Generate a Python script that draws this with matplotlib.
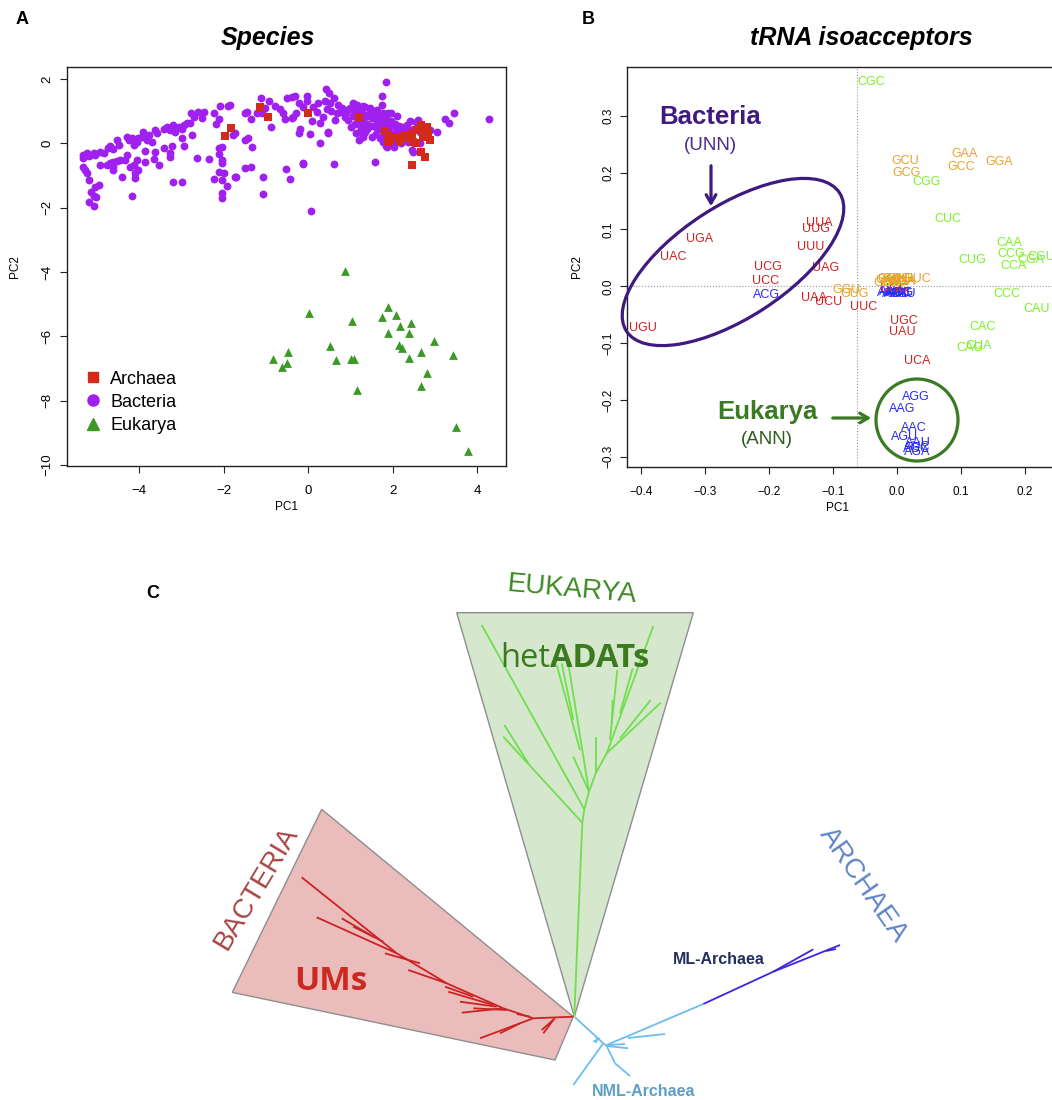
import matplotlib
matplotlib.use('Agg')
import matplotlib.pyplot as plt
from matplotlib.patches import Polygon, Ellipse, Circle
from matplotlib.lines import Line2D
from matplotlib.collections import LineCollection

# ---------------- Panel A data (PC1, PC2 of species) ----------------
bac_x = [-2.08, -1.91, -2.24, -2.12, -2.18, -2.78, -2.62, -2.46, -2.71, -2.52,
         -3.19, -3.07, -2.95, -2.87, -3.35, -3.42, -3.27, -3.15, -2.99, -2.79, -2.75,
         -3.62, -3.58, -3.78, -3.90, -3.94, -4.02, -3.82, -3.70, -4.06, -4.17, -4.25, -4.13, -4.29,
         -4.53, -4.49, -4.69, -4.73, -4.61, -4.92, -4.84, -5.08, -5.04, -5.24, -5.32, -5.32, -5.20,
         -2.99, -2.95, -3.23, -3.41, -3.62, -3.86, -3.27, -3.28,
         -4.29, -4.33, -4.45, -4.53, -4.61, -4.69, -4.77, -4.92, -4.06, -3.86, -3.64, -3.54, -4.02, -4.09,
         -4.13, -4.21, -4.61, -4.62, -5.32, -5.28, -5.24, -5.20, -4.41, -4.09,
         -2.64, -2.36, -2.12, -2.04, -2.12, -2.04, -2.04, -3.20, -2.99, -2.24, -2.04, -2.12, -2.00, -1.93,
         -1.73, -1.77, -4.96, -5.04, -5.14, -5.08, -5.02, -5.20, -5.07, -4.17, -2.04, -2.04,
         1.85, 1.75, -1.85, -1.74, -1.50, -1.42, -1.32, -1.50, -1.36, -1.71, -1.08, -1.08, -0.53, -0.43,
         -0.13, 0.06, 0.62, 1.58, 0.28, 0.04, -0.21, -0.20, -0.89, -1.36, -1.46, -1.50, -1.22, -1.10,
         -1.12, -0.93, -0.79, -0.67, -0.59, -0.55, -0.39, -0.51, -0.32, -0.21, -0.12, -0.02, -0.04, 0.12,
         0.21, 0.08, 0.28, 0.41, 0.49, 0.39, 0.51, 0.61, 0.67, 0.36, 0.47, 0.63, 0.75, 0.87, 0.99, 1.07,
         1.14, 1.22, 1.10, 1.18, 1.26, 1.30, 1.14, 1.34, 1.46, 1.54, 1.62, 1.66, 1.74, 1.81, 1.85, 1.74,
         1.77, 1.85, 1.62, 1.74, 0.87, 0.95, 0.24, -0.28, -0.39, -0.37, -1.03,
         1.78, 1.89, 1.70, 1.81, 1.93, 2.05, 2.17, 2.33, 2.41, 2.56, 2.60, 3.04, 3.24, 3.34, 3.45, 4.28,
         1.87, 2.03, 2.46, 2.64, 2.48, 2.01, 2.09, 2.25, 2.37, 2.80, 2.88, 2.49, -0.12, 0.47,
         1.00, 1.10, 1.20, 1.30, 1.40, 1.50, 1.60, 1.70, 1.80, 1.90, 1.30, 1.40, 1.50, 1.60, 1.70, 1.80,
         1.90, 2.00, 2.10, 2.20, 2.30, 1.25, 1.35, 1.45, 1.55, 1.65, 1.75, 1.85, 1.95, 2.05, 2.15, 2.25,
         2.35, 2.45, 2.55, 2.65, 2.05, 2.20, 2.35, 1.95, 1.10, 1.20, 1.05, 0.90, 0.80, 0.70, 0.55, 0.45,
         1.15, 1.30, 1.45, 1.95, 2.10, 1.60, 1.70, 1.50, 1.40, 1.30, 1.00, 1.20]
bac_y = [1.16, 1.16, 0.93, 0.75, 0.59, 0.93, 0.98, 0.96, 0.83, 0.80,
         0.57, 0.52, 0.57, 0.62, 0.50, 0.44, 0.41, 0.36, 0.44, 0.64, 0.26,
         0.41, 0.31, 0.26, 0.36, 0.21, 0.16, 0.10, 0.05, 0.05, 0.16, 0.10, -0.05, 0.21,
         0.10, -0.05, -0.10, -0.16, -0.19, -0.26, -0.31, -0.29, -0.36, -0.31, -0.36, -0.47, -0.39,
         0.16, -0.10, -0.10, -0.16, -0.26, -0.24, -0.31, -0.44,
         -0.36, -0.52, -0.52, -0.54, -0.57, -0.60, -0.67, -0.67, -0.52, -0.57, -0.50, -0.67, -0.83, -0.93,
         -0.67, -0.73, -0.73, -0.83, -0.73, -0.83, -0.93, -1.14, -1.04, -1.09,
         -0.47, -0.50, -0.16, -0.12, -0.33, -0.52, -0.62, -1.19, -1.19, -1.12, -1.14, -0.88, -0.93, -1.33,
         -1.06, 0.26, -1.30, -1.35, -1.53, -1.64, -1.68, -1.81, -1.95, -1.64, -1.55, -1.71,
         1.89, 1.47, 1.19, 0.31, 0.10, 0.16, -0.12, -0.76, -0.74, -1.06, -1.04, -1.58, -0.79, -1.12,
         -0.64, -2.11, -0.65, -0.59, 0.00, 0.28, 0.31, 0.44, 0.50, 0.76, 0.98, 0.95, 0.93, 0.93,
         1.40, 1.30, 1.16, 1.06, 0.93, 0.75, 1.45, 1.40, 1.47, 1.24, 1.12, 1.47, 1.30, 1.14,
         0.98, 0.70, 0.62, 1.68, 1.55, 1.30, 1.24, 1.40, 0.93, 0.83, 0.36, 0.73, 0.98, 1.04, 1.09, 1.24,
         1.19, 1.04, 0.88, 0.73, 0.52, 0.21, 0.31, 1.14, 1.06, 0.93, 0.83, 0.67, 0.57, 0.47, 0.31, 0.21,
         0.05, -0.10, 1.04, 1.19, 0.83, 0.73, 1.26, 0.93, 0.78, 0.83, 1.09,
         0.93, 0.93, 0.73, 0.62, 0.57, 0.52, 0.47, 0.57, 0.70, 0.67, 0.73, 0.36, 0.75, 0.64, 0.95, 0.75,
         -0.12, -0.12, -0.21, 0.00, 0.10, 0.21, 0.31, 0.21, 0.26, 0.26, 0.41, -0.26, -0.62, 0.33,
         1.05, 1.00, 0.95, 0.90, 0.85, 0.80, 0.75, 0.70, 0.65, 0.55, 0.70, 0.60, 0.55, 0.50, 0.45, 0.40,
         0.35, 0.30, 0.25, 0.20, 0.15, 0.45, 0.35, 0.95, 1.00, 0.90, 0.85, 0.80, 0.70, 0.60, 0.55, 0.50,
         0.45, 0.40, 0.45, 0.35, 0.05, 0.00, 0.05, 0.15, 0.60, 0.80, 0.85, 0.95, 1.10, 1.20, 1.00, 1.05,
         1.20, 1.15, 1.10, 0.95, 0.85, 0.30, 0.15, 0.20, 0.45, 0.25, 0.50, 0.10]

arc_x = [-1.14, -0.95, 0.00, 1.20, -1.83, -1.97, 1.81, 1.89, 1.93, 2.13, 2.17, 2.29, 2.37, 2.45,
         2.49, 2.55, 2.66, 2.72, 2.80, 2.84, 2.88, 2.72, 2.66, 2.76, 2.45, 2.04, 1.89, 2.56, 2.78]
arc_y = [1.12, 0.81, 0.95, 0.81, 0.47, 0.23, 0.39, 0.26, 0.10, 0.21, 0.08, 0.26, 0.21, 0.31,
         0.05, 0.00, 0.57, 0.47, 0.52, 0.31, 0.10, 0.21, -0.26, -0.44, -0.67, 0.21, 0.05, 0.41, 0.36]

euk_x = [0.88, 0.02, 1.03, 1.89, 1.75, 2.07, 2.17, 2.43, 2.39, 1.89, 2.97, 0.51, 2.15, 2.22, 2.68,
         3.43, -0.47, -0.84, -0.51, -0.61, 0.65, 1.01, 1.08, 2.39, 2.82, 1.16, 2.67, 3.50, 3.79]
euk_y = [-3.96, -5.26, -5.51, -5.10, -5.39, -5.33, -5.67, -5.58, -5.91, -5.91, -6.15, -6.30, -6.27,
         -6.37, -6.48, -6.58, -6.48, -6.72, -6.82, -6.96, -6.74, -6.72, -6.72, -6.68, -7.15, -7.67,
         -7.54, -8.83, -9.55]

# ---------------- Panel B data (tRNA isoacceptors) ----------------
codons = ['UUA', 'UUG', 'UUU', 'UGA', 'UAC', 'UCG', 'UAG', 'UCC', 'UAA', 'UCU', 'UUC', 'UGC',
          'UAU', 'UCA', 'UGU',
          'CGC', 'CGG', 'CUC', 'CAA', 'CCG', 'CCA', 'CGA', 'CGU', 'CUG', 'CCC', 'CAU', 'CAC',
          'CUA', 'CAG', 'CCU', 'CUU',
          'ACG', 'AGG', 'AAG', 'AAC', 'AGU', 'AAU', 'AUC', 'AGC', 'AGA',
          'AAA', 'ACA', 'ACC', 'ACU', 'AUA', 'AUG', 'AUU',
          'UGG',
          'GCU', 'GCG', 'GAA', 'GCC', 'GGA', 'GGU', 'GUG', 'GUC',
          'GAC', 'GAG', 'GAU', 'GCA', 'GGC', 'GGG', 'GUA', 'GUU']
codon_pc1 = [-0.121, -0.127, -0.135, -0.308, -0.350, -0.202, -0.111, -0.206, -0.130, -0.107,
             -0.052, 0.011, 0.009, 0.032, -0.397,
             -0.041, 0.046, 0.079, 0.175, 0.178, 0.182, 0.210, 0.225, 0.117, 0.172, 0.218, 0.134,
             0.127, 0.114, 0.000, -0.006,
             -0.204, 0.030, 0.008, 0.027, 0.0125, 0.033, 0.032, 0.031, 0.031,
             -0.012, -0.004, 0.004, 0.010, -0.008, 0.006, 0.000,
             -0.005,
             0.013, 0.015, 0.106, 0.101, 0.160, -0.079, -0.066, 0.031,
             -0.012, -0.004, 0.004, 0.008, -0.015, 0.000, 0.010, -0.008]
codon_pc2 = [0.112, 0.101, 0.070, 0.084, 0.051, 0.034, 0.032, 0.0085, -0.021, -0.027,
             -0.037, -0.061, -0.080, -0.131, -0.074,
             0.359, 0.184, 0.118, 0.076, 0.056, 0.036, 0.047, 0.052, 0.046, -0.013, -0.040, -0.072,
             -0.105, -0.109, 0.009, 0.005,
             -0.015, -0.194, -0.216, -0.249, -0.266, -0.275, -0.282, -0.287, -0.292,
             -0.012, -0.013, -0.011, -0.013, -0.010, -0.012, -0.014,
             -0.004,
             0.221, 0.200, 0.233, 0.210, 0.219, -0.007, -0.013, 0.013,
             0.011, 0.008, 0.012, 0.007, 0.006, 0.013, 0.010, 0.012]
base_colors = {'U': '#D42020', 'C': '#7CF02A', 'A': '#2A2AF5', 'G': '#E8A22E'}

# ---------------- Panel C tree (drawing coordinates, pixels) ----------------
euk_wedge = [(456.7, 612.7), (693.3, 612.7), (574.3, 1016.7)]
bac_wedge = [(321.7, 809.3), (232.3, 992.4), (555.0, 1060.0), (573.3, 1016.7)]
euk_branches = [
    ((574.3, 1016.7), (582.3, 822.7)), ((582.3, 822.7), (503.3, 736.7)),
    ((528.3, 763.3), (504.3, 725.0)), ((582.3, 822.7), (584.3, 809.3)),
    ((584.3, 809.3), (481.7, 625.0)), ((584.3, 809.3), (589.0, 791.7)),
    ((589.0, 791.7), (573.3, 756.7)), ((589.0, 791.7), (568.3, 663.3)),
    ((580.0, 750.0), (556.7, 665.0)), ((573.3, 720.0), (561.7, 663.3)),
    ((589.0, 791.7), (595.7, 773.3)), ((595.7, 773.3), (595.7, 736.7)),
    ((595.7, 773.3), (606.7, 753.3)), ((606.7, 753.3), (653.3, 626.0)),
    ((606.7, 753.3), (660.7, 702.7)), ((620.0, 738.3), (650.7, 700.0)),
    ((610.0, 740.0), (617.3, 670.0)), ((611.7, 723.3), (612.7, 700.0)),
    ((620.0, 713.3), (632.7, 668.3))]
bac_branches = [
    ((573.3, 1016.7), (533.3, 1018.3)), ((533.3, 1018.3), (503.3, 1008.3)),
    ((503.3, 1008.3), (446.7, 983.3)), ((446.7, 983.3), (396.7, 953.3)),
    ((396.7, 953.3), (301.7, 877.3)), ((396.7, 953.3), (316.7, 917.3)),
    ((373.3, 936.7), (341.7, 918.3)), ((383.3, 941.7), (353.3, 926.7)),
    ((420.0, 963.3), (385.0, 953.3)), ((446.7, 983.3), (408.3, 970.0)),
    ((473.3, 996.7), (445.0, 986.7)), ((493.3, 1005.0), (448.3, 991.7)),
    ((496.7, 1006.7), (460.0, 1001.7)), ((503.3, 1008.3), (461.7, 1012.7)),
    ((506.7, 1010.0), (473.3, 1008.3)), ((533.3, 1018.3), (480.0, 1038.3)),
    ((520.0, 1023.3), (500.0, 1033.3)), ((555.0, 1018.3), (541.7, 1030.0)),
    ((553.3, 1020.0), (543.3, 1033.3)), ((530.0, 1016.7), (516.7, 1014.0))]
nml_branches = [
    ((575.0, 1017.3), (603.3, 1043.3)), ((603.3, 1043.3), (573.3, 1085.0)),
    ((603.3, 1043.3), (606.7, 1046.0)), ((606.7, 1046.0), (615.0, 1063.3)),
    ((615.0, 1063.3), (630.0, 1076.0)), ((606.7, 1045.0), (703.3, 1004.0)),
    ((628.0, 1038.0), (665.0, 1034.0)), ((606.7, 1046.0), (628.3, 1048.3)),
    ((608.0, 1045.0), (625.0, 1044.0)), ((600.0, 1038.3), (593.3, 1041.7)),
    ((597.0, 1038.0), (596.0, 1043.0))]
ml_branches = [
    ((703.3, 1004.0), (773.3, 971.7)), ((773.3, 971.7), (840.0, 945.0)),
    ((773.3, 971.7), (813.3, 949.3)), ((826.0, 951.0), (836.0, 949.0))]

# ---------------- Figure ----------------
W, H = 1052, 1100
plt.rcParams['font.family'] = ['Liberation Sans', 'DejaVu Sans']
fig = plt.figure(figsize=(W / 100, H / 100), dpi=100)


def rect(l, t, r, b):
    return [l / W, 1 - b / H, (r - l) / W, (b - t) / H]


def r_style(ax, tsize, ypad):
    for s in ax.spines.values():
        s.set_linewidth(1.0)
        s.set_color('#222222')
    ax.tick_params(direction='out', length=5, width=0.8, color='#222222',
                   labelsize=tsize)
    ax.tick_params(axis='x', pad=9)
    ax.tick_params(axis='y', labelrotation=90, pad=ypad)
    for lab in ax.get_yticklabels():
        lab.set_va('center')


# Panel A
axA = fig.add_axes(rect(67, 67, 506, 466))
axA.scatter(bac_x, bac_y, s=32, marker='o', color='#A020F0', linewidths=0, zorder=2)
axA.scatter(arc_x, arc_y, s=26, marker='s', color='#D42A1A', linewidths=0, zorder=3)
axA.scatter(euk_x, euk_y, s=40, marker='^', color='#3A9A24', linewidths=0, zorder=3)
axA.set_xlim(-5.71, 4.68)
axA.set_ylim(-10.03, 2.37)
axA.set_xticks([-4, -2, 0, 2, 4])
axA.set_yticks([-10, -8, -6, -4, -2, 0, 2])
r_style(axA, 9.5, 5)
axA.set_xlabel('PC1', fontsize=8.5)
axA.set_ylabel('PC2', fontsize=8.5)
axA.xaxis.set_label_coords(0.5, -0.088)
axA.yaxis.set_label_coords(-0.105, 0.5)
handles = [Line2D([], [], ls='', marker='s', ms=7, color='#D42A1A'),
           Line2D([], [], ls='', marker='o', ms=8, color='#A020F0'),
           Line2D([], [], ls='', marker='^', ms=8.5, color='#3A9A24')]
axA.legend(handles, ['Archaea', 'Bacteria', 'Eukarya'], loc='upper left',
           bbox_to_anchor=(0.039, 0.239), frameon=False, fontsize=13, borderpad=0,
           borderaxespad=0, handlelength=1.0, handletextpad=0.45, labelspacing=0.34)

# Panel B
axB = fig.add_axes(rect(627, 67, 1053, 467))
axB.set_xlim(-0.422, 0.244)
axB.set_ylim(-0.318, 0.386)
axB.axvline(-0.0625, color='#999999', lw=0.8, ls=':', zorder=1)
axB.axhline(0.0, color='#999999', lw=0.8, ls=':', zorder=1)
for c, x, y in zip(codons, codon_pc1, codon_pc2):
    axB.text(x, y, c, color=base_colors[c[0]], fontsize=9, ha='center', va='center',
             clip_on=True, zorder=3)
axB.set_xticks([-0.4, -0.3, -0.2, -0.1, 0.0, 0.1, 0.2])
axB.set_xticklabels(['\u22120.4', '\u22120.3', '\u22120.2', '\u22120.1', '0.0', '0.1', '0.2'])
axB.set_yticks([-0.3, -0.2, -0.1, 0.0, 0.1, 0.2, 0.3])
axB.set_yticklabels(['\u22120.3', '\u22120.2', '\u22120.1', '0.0', '0.1', '0.2', '0.3'])
r_style(axB, 8.5, 4)
axB.set_xlabel('PC1', fontsize=8.5)
axB.set_ylabel('PC2', fontsize=8.5)
axB.xaxis.set_label_coords(0.495, -0.088)
axB.yaxis.set_label_coords(-0.103, 0.5)

# Overlay axes in pixel coordinates (annotations and panel C)
ov = fig.add_axes([0, 0, 1, 1])
ov.set_xlim(0, W)
ov.set_ylim(H, 0)
ov.axis('off')

ov.text(22, 20, 'A', fontsize=13, fontweight='bold', ha='center', va='center')
ov.text(588, 20, 'B', fontsize=13, fontweight='bold', ha='center', va='center')
ov.text(153, 593, 'C', fontsize=13, fontweight='bold', ha='center', va='center')
ov.text(268, 38, 'Species', fontsize=18, fontweight='bold', fontstyle='italic',
        ha='center', va='center')
ov.text(861, 38, 'tRNA isoacceptors', fontsize=18, fontweight='bold', fontstyle='italic',
        ha='center', va='center')

# Panel B annotations
purple = '#3F1A80'
dgreen = '#3A7A22'
ov.add_patch(Ellipse((733, 262), 254, 112, angle=-33, fill=False, ec=purple, lw=2.3))
ov.text(710, 117, 'Bacteria', fontsize=18.5, fontweight='bold', color=purple,
        ha='center', va='center')
ov.text(710, 145, '(UNN)', fontsize=13.5, color='#4A2A8A', ha='center', va='center')
ov.annotate('', xy=(711, 209), xytext=(711, 163),
            arrowprops=dict(arrowstyle='->,head_length=0.6,head_width=0.35', color=purple, lw=2.3))
ov.add_patch(Circle((917, 420), 41, fill=False, ec=dgreen, lw=2.3))
ov.text(767, 412, 'Eukarya', fontsize=18.5, fontweight='bold', color=dgreen,
        ha='center', va='center')
ov.text(767, 439, '(ANN)', fontsize=13.5, color='#2F5A1E', ha='center', va='center')
ov.annotate('', xy=(874, 418), xytext=(830, 418),
            arrowprops=dict(arrowstyle='->,head_length=0.6,head_width=0.35', color=dgreen, lw=2.3))

# Panel C
ov.add_patch(Polygon(euk_wedge, closed=True, fc='#D5E8CE', ec='#8E8E8E', lw=1.0, zorder=1))
ov.add_patch(Polygon(bac_wedge, closed=True, fc='#EBBCBC', ec='#8E8E8E', lw=1.0, zorder=1))
ov.add_collection(LineCollection(euk_branches, colors='#72DD4E', linewidths=1.3, zorder=2))
ov.add_collection(LineCollection(bac_branches, colors='#CC2222', linewidths=1.3, zorder=2))
ov.add_collection(LineCollection(nml_branches, colors='#6CBDF2', linewidths=1.3, zorder=2))
ov.add_collection(LineCollection(ml_branches, colors='#3A26E0', linewidths=1.3, zorder=2))

ov.text(572, 590, 'EUKARYA', fontsize=20, color='#3E8A24', ha='center', va='center',
        rotation=-5)
ov.text(550, 667, 'het', fontsize=23.5, color='#3B7A1E', ha='right', va='baseline',
        family=['Open Sans', 'DejaVu Sans'])
ov.text(550, 667, 'ADATs', fontsize=23.5, color='#3B7A1E', ha='left', va='baseline',
        fontweight='bold', family=['Open Sans', 'DejaVu Sans'])
ov.text(331, 990, 'UMs', fontsize=24, color='#CC2A1E', ha='center', va='baseline',
        fontweight='bold', family=['Open Sans', 'DejaVu Sans'])
ov.text(256, 888, 'BACTERIA', fontsize=20, color='#A84444', ha='center', va='center',
        rotation=59)
ov.text(863, 885, 'ARCHAEA', fontsize=20, color='#5F84C6', ha='center', va='center',
        rotation=-55)
ov.text(719, 959, 'ML-Archaea', fontsize=11.5, fontweight='bold', color='#22305E',
        ha='center', va='center')
ov.text(644, 1091, 'NML-Archaea', fontsize=11.5, fontweight='bold', color='#5E9EC4',
        ha='center', va='center')

fig.savefig('out.png', dpi=100)
